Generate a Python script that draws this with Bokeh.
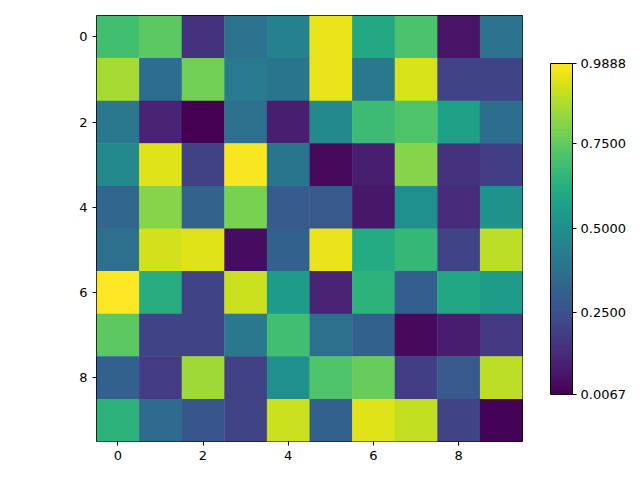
from bokeh.plotting import figure
from bokeh.models import LinearColorMapper, ColorBar, FixedTicker, PrintfTickFormatter, ColumnDataSource
from bokeh.palettes import Viridis256
from bokeh.embed import file_html
from bokeh.resources import INLINE

cols = [0, 1, 2, 3, 4, 5, 6, 7, 8, 9]
rows = [0, 1, 2, 3, 4, 5, 6, 7, 8, 9]
row_0 = [0.69, 0.74, 0.15, 0.38, 0.44, 0.96, 0.60, 0.71, 0.06, 0.38]
row_1 = [0.86, 0.36, 0.78, 0.41, 0.39, 0.96, 0.40, 0.93, 0.21, 0.21]
row_2 = [0.40, 0.10, 0.0067, 0.37, 0.09, 0.47, 0.68, 0.72, 0.57, 0.36]
row_3 = [0.47, 0.94, 0.20, 0.98, 0.39, 0.03, 0.09, 0.81, 0.15, 0.19]
row_4 = [0.33, 0.81, 0.32, 0.79, 0.29, 0.28, 0.07, 0.50, 0.13, 0.51]
row_5 = [0.37, 0.92, 0.94, 0.04, 0.31, 0.96, 0.61, 0.66, 0.21, 0.89]
row_6 = [0.9888, 0.62, 0.21, 0.91, 0.54, 0.10, 0.64, 0.30, 0.59, 0.55]
row_7 = [0.74, 0.21, 0.21, 0.40, 0.69, 0.37, 0.31, 0.03, 0.08, 0.17]
row_8 = [0.31, 0.18, 0.85, 0.20, 0.50, 0.72, 0.76, 0.19, 0.28, 0.89]
row_9 = [0.64, 0.35, 0.27, 0.21, 0.91, 0.31, 0.94, 0.90, 0.21, 0.015]
cb_ticks = [0.0067, 0.25, 0.5, 0.75, 0.9888]

grid = [row_0, row_1, row_2, row_3, row_4, row_5, row_6, row_7, row_8, row_9]
xs, ys, vs = [], [], []
for r, rowvals in zip(rows, grid):
    for c, v in zip(cols, rowvals):
        xs.append(c)
        ys.append(r)
        vs.append(v)
src = ColumnDataSource(dict(x=xs, y=ys, v=vs))

vmin, vmax = min(vs), max(vs)
mapper = LinearColorMapper(palette=Viridis256, low=vmin, high=vmax)

p = figure(width=640, height=480, output_backend="svg", toolbar_location=None,
           x_range=(-0.5, 9.5), y_range=(9.5, -0.5),
           min_border_left=96, min_border_right=118, min_border_top=15, min_border_bottom=39)
p.rect(x="x", y="y", width=1, height=1, source=src, dilate=True,
       fill_color={"field": "v", "transform": mapper}, line_color=None)

p.xgrid.visible = False
p.ygrid.visible = False
p.outline_line_color = "black"
p.outline_line_width = 1
p.background_fill_color = "white"
for ax in (p.xaxis, p.yaxis):
    ax.ticker = FixedTicker(ticks=[0, 2, 4, 6, 8])
    ax.minor_tick_line_color = None
    ax.major_tick_in = 0
    ax.major_tick_out = 4
    ax.axis_line_color = None
    ax.major_tick_line_color = "black"
    ax.major_label_text_font = "DejaVu Sans"
    ax.major_label_text_font_size = "13px"
    ax.major_label_text_color = "black"

cb = ColorBar(color_mapper=mapper, width=22, height=331, location=(28, 47),
              padding=0, margin=0,
              ticker=FixedTicker(ticks=cb_ticks),
              formatter=PrintfTickFormatter(format="%.4f"),
              major_tick_in=0, major_tick_out=4, major_tick_line_color="black",
              bar_line_color="black", minor_tick_line_color=None,
              major_label_text_font="DejaVu Sans", major_label_text_font_size="13px",
              major_label_text_color="black", label_standoff=4)
p.add_layout(cb, "right")

open("out.html", "w").write(file_html(p, INLINE))
